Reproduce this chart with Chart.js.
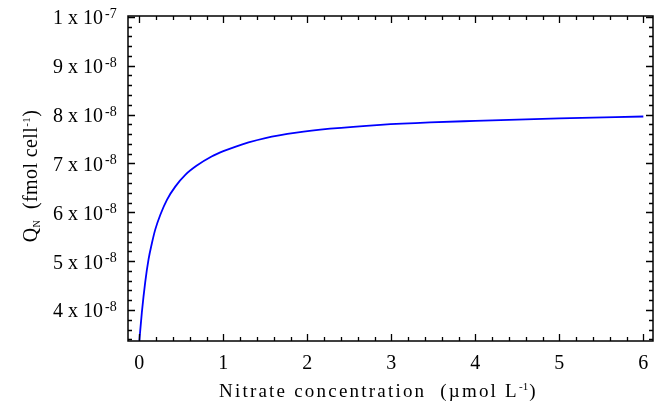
<!DOCTYPE html>
<html>
<head>
<meta charset="utf-8">
<script src="https://cdn.jsdelivr.net/npm/chart.js@4.4.1/dist/chart.umd.min.js"></script>
<style>
  html, body { margin: 0; padding: 0; background: #fff; }
</style>
</head>
<body>
<canvas id="chart" width="660" height="412"></canvas>
<script>
// values
const nitrate = [0, 0.03, 0.07, 0.11, 0.15, 0.19, 0.25, 0.33, 0.43, 0.55, 0.68, 0.86, 1.0, 1.14, 1.3, 1.5,
                 1.87, 2.27, 2.87, 3.46, 4.0, 5.0, 6.0];
const quotaN = [3.37e-8, 3.95e-8, 4.57e-8, 5.04e-8, 5.37e-8, 5.65e-8, 5.95e-8, 6.26e-8, 6.53e-8, 6.77e-8, 6.95e-8,
                7.14e-8, 7.25e-8, 7.34e-8, 7.43e-8, 7.52e-8, 7.63e-8, 7.71e-8, 7.79e-8, 7.84e-8, 7.87e-8, 7.92e-8, 7.96e-8];

const xTicks = [0, 1, 2, 3, 4, 5, 6];
const xTickLabels = ['0', '1', '2', '3', '4', '5', '6'];
const yTicks = [4e-8, 5e-8, 6e-8, 7e-8, 8e-8, 9e-8, 1e-7];
const yTickMantissa = ['4', '5', '6', '7', '8', '9', '1'];
const yTickExponent = ['-8', '-8', '-8', '-8', '-8', '-8', '-7'];

const SERIF = '"Liberation Serif", "Times New Roman", serif';

// draws the framed box, inward ticks, labels and axis titles
const framePlugin = {
  id: 'frame',
  afterDraw(chart) {
    const ctx = chart.ctx;
    const a = chart.chartArea;
    const xs = chart.scales.x, ys = chart.scales.y;
    ctx.save();
    ctx.strokeStyle = '#000';
    ctx.fillStyle = '#000';
    ctx.lineWidth = 1.5;
    ctx.strokeRect(a.left, a.top, a.right - a.left, a.bottom - a.top);

    ctx.lineWidth = 1.3;
    ctx.beginPath();
    // x ticks, every 0.2
    for (let i = 0; i <= 30; i++) {
      const v = i / 5;
      const px = Math.round(xs.getPixelForValue(v)) + 0.5;
      const len = i % 5 === 0 ? 7 : 4;
      ctx.moveTo(px, a.bottom); ctx.lineTo(px, a.bottom - len);
      ctx.moveTo(px, a.top); ctx.lineTo(px, a.top + len);
    }
    // y ticks, every 2e-9
    for (let i = 17; i <= 50; i++) {
      const v = i * 2e-9;
      const py = Math.round(ys.getPixelForValue(v)) + 0.5;
      if (py > a.bottom || py < a.top - 1) continue;
      const len = i % 5 === 0 ? 7 : 4;
      ctx.moveTo(a.left, py); ctx.lineTo(a.left + len, py);
      ctx.moveTo(a.right, py); ctx.lineTo(a.right - len, py);
    }
    ctx.stroke();

    // x tick labels
    ctx.font = '20px ' + SERIF;
    ctx.textAlign = 'center';
    ctx.textBaseline = 'alphabetic';
    xTicks.forEach((v, i) => {
      ctx.fillText(xTickLabels[i], xs.getPixelForValue(v), 369);
    });

    // y tick labels "m x 10^e"
    yTicks.forEach((v, i) => {
      const py = ys.getPixelForValue(v);
      ctx.font = '20px ' + SERIF;
      ctx.textAlign = 'right';
      ctx.fillText(yTickMantissa[i] + ' x 10', 103, py + 7.5);
      ctx.font = '14px ' + SERIF;
      ctx.textAlign = 'left';
      ctx.fillText(yTickExponent[i], 105, py + 1);
    });

    // x title
    const xMain = 'Nitrate concentration  (\u00b5mol L';
    ctx.textAlign = 'left';
    ctx.font = '19px ' + SERIF;
    ctx.letterSpacing = '0px';
    const natural = ctx.measureText(xMain).width;
    const sp = (300 - natural) / xMain.length;
    ctx.letterSpacing = sp.toFixed(2) + 'px';
    ctx.fillText(xMain, 219, 397);
    ctx.letterSpacing = '0px';
    let tx = 219 + 300;
    ctx.font = '11px ' + SERIF;
    ctx.fillText('-1', tx, 390);
    tx += ctx.measureText('-1').width + 1;
    ctx.font = '19px ' + SERIF;
    ctx.fillText(')', tx, 397);

    // y title, rotated
    ctx.translate(37, 176);
    ctx.rotate(-Math.PI / 2);
    const parts = [
      ['Q', '20px', 0], ['N', '10px', 3], ['  (fmol cell', '20px', 0], ['-1', '11px', -7], [')', '20px', 0]
    ];
    ctx.letterSpacing = '0.4px';
    let total = 0;
    parts.forEach(p => { ctx.font = p[1] + ' ' + SERIF; total += ctx.measureText(p[0]).width; });
    let cx = -total / 2;
    parts.forEach(p => {
      ctx.font = p[1] + ' ' + SERIF;
      ctx.fillText(p[0], cx, p[2]);
      cx += ctx.measureText(p[0]).width;
    });
    ctx.restore();
  }
};

new Chart(document.getElementById('chart'), {
  type: 'line',
  data: {
    datasets: [{
      label: 'QN',
      data: nitrate.map((x, i) => ({ x: x, y: quotaN[i] })),
      borderColor: '#0000ff',
      borderWidth: 1.8,
      pointRadius: 0,
      fill: false,
      cubicInterpolationMode: 'monotone'
    }]
  },
  options: {
    responsive: false,
    devicePixelRatio: 1,
    animation: false,
    layout: { padding: { left: 128, right: 7, top: 16, bottom: 71 } },
    plugins: { legend: { display: false }, tooltip: { enabled: false } },
    scales: {
      x: { type: 'linear', min: -0.135, max: 6.115, display: false },
      y: { type: 'linear', min: 3.3655e-8, max: 1.0017e-7, display: false }
    }
  },
  plugins: [framePlugin]
});
</script>
</body>
</html>
